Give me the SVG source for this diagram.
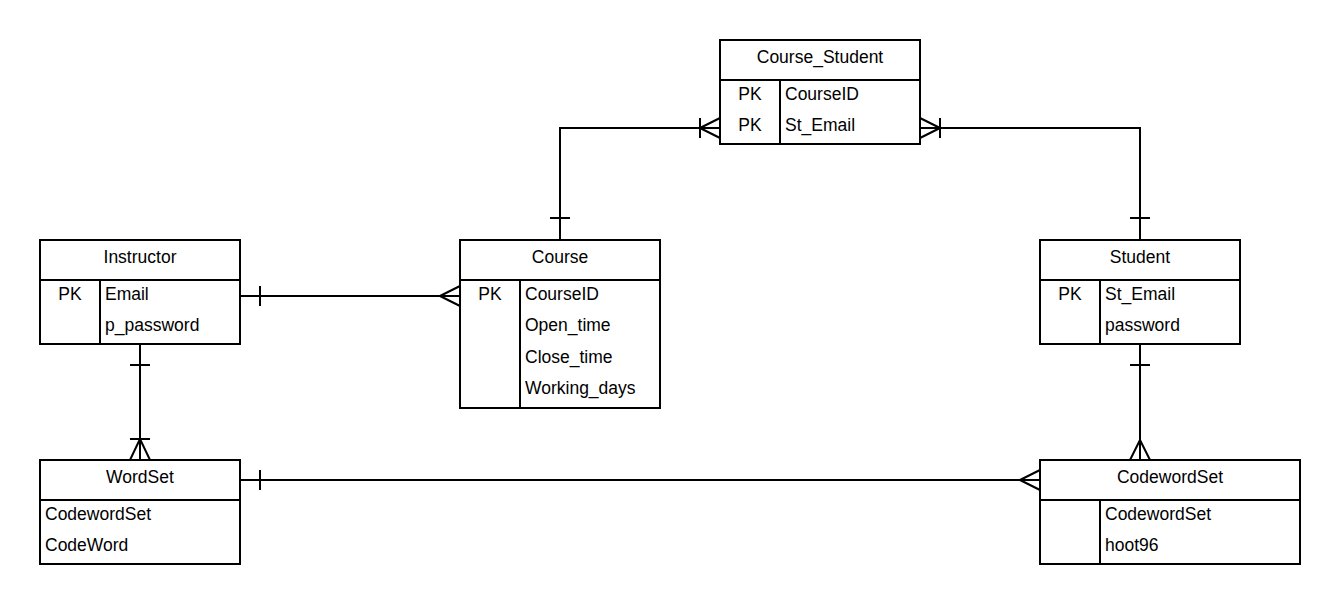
<svg xmlns="http://www.w3.org/2000/svg" width="1340" height="604" viewBox="0 0 1340 604">
<style>
.box{fill:#fff;stroke:#000;stroke-width:2}
.ln{fill:none;stroke:#000;stroke-width:2}
text{font-family:"Liberation Sans",Arial,sans-serif;font-size:17.5px;fill:#000}
.c{text-anchor:middle}
</style>
<rect width="1340" height="604" fill="#fff"/>
<g id="connectors" class="ln">
  <path d="M560 240 V128 H720"/>
  <path d="M550 218 H570"/>
  <path d="M700 118 V138 M700 128 L720 118 M700 128 L720 138"/>
  <path d="M1140 240 V128 H920"/>
  <path d="M1130 218 H1150"/>
  <path d="M940 118 V138 M940 128 L920 118 M940 128 L920 138"/>
  <path d="M240 296 H460"/>
  <path d="M260 286 V306"/>
  <path d="M440 296 L460 286 M440 296 L460 306"/>
  <path d="M140 344 V460"/>
  <path d="M130 365 H150"/>
  <path d="M130 439 H150 M140 439 L130 460 M140 439 L150 460"/>
  <path d="M1140 344 V460"/>
  <path d="M1130 365 H1150"/>
  <path d="M1140 440 L1130 460 M1140 440 L1150 460"/>
  <path d="M240 480 H1040"/>
  <path d="M260 470 V490"/>
  <path d="M1020 480 L1040 470 M1020 480 L1040 490"/>
</g>
<g id="course_student">
  <rect class="box" x="720" y="40" width="200" height="104"/>
  <path class="ln" d="M720 80 H920 M780 80 V144"/>
  <text class="c" x="820" y="63">Course_Student</text>
  <text class="c" x="750" y="100">PK</text>
  <text x="785" y="100">CourseID</text>
  <text class="c" x="750" y="131">PK</text>
  <text x="785" y="131">St_Email</text>
</g>
<g id="instructor">
  <rect class="box" x="40" y="240" width="200" height="104"/>
  <path class="ln" d="M40 280 H240 M100 280 V344"/>
  <text class="c" x="140" y="263">Instructor</text>
  <text class="c" x="70" y="300">PK</text>
  <text x="105" y="300">Email</text>
  <text x="105" y="331">p_password</text>
</g>
<g id="course">
  <rect class="box" x="460" y="240" width="200" height="168"/>
  <path class="ln" d="M460 280 H660 M520 280 V408"/>
  <text class="c" x="560" y="263">Course</text>
  <text class="c" x="490" y="300">PK</text>
  <text x="525" y="300">CourseID</text>
  <text x="525" y="331">Open_time</text>
  <text x="525" y="363">Close_time</text>
  <text x="525" y="394">Working_days</text>
</g>
<g id="student">
  <rect class="box" x="1040" y="240" width="200" height="104"/>
  <path class="ln" d="M1040 280 H1240 M1100 280 V344"/>
  <text class="c" x="1140" y="263">Student</text>
  <text class="c" x="1070" y="300">PK</text>
  <text x="1105" y="300">St_Email</text>
  <text x="1105" y="331">password</text>
</g>
<g id="wordset">
  <rect class="box" x="40" y="460" width="200" height="104"/>
  <path class="ln" d="M40 500 H240"/>
  <text class="c" x="140" y="483">WordSet</text>
  <text x="45" y="520">CodewordSet</text>
  <text x="45" y="551">CodeWord</text>
</g>
<g id="codewordset">
  <rect class="box" x="1040" y="460" width="260" height="104"/>
  <path class="ln" d="M1040 500 H1300 M1100 500 V564"/>
  <text class="c" x="1170" y="483">CodewordSet</text>
  <text x="1105" y="520">CodewordSet</text>
  <text x="1105" y="551">hoot96</text>
</g>
</svg>
